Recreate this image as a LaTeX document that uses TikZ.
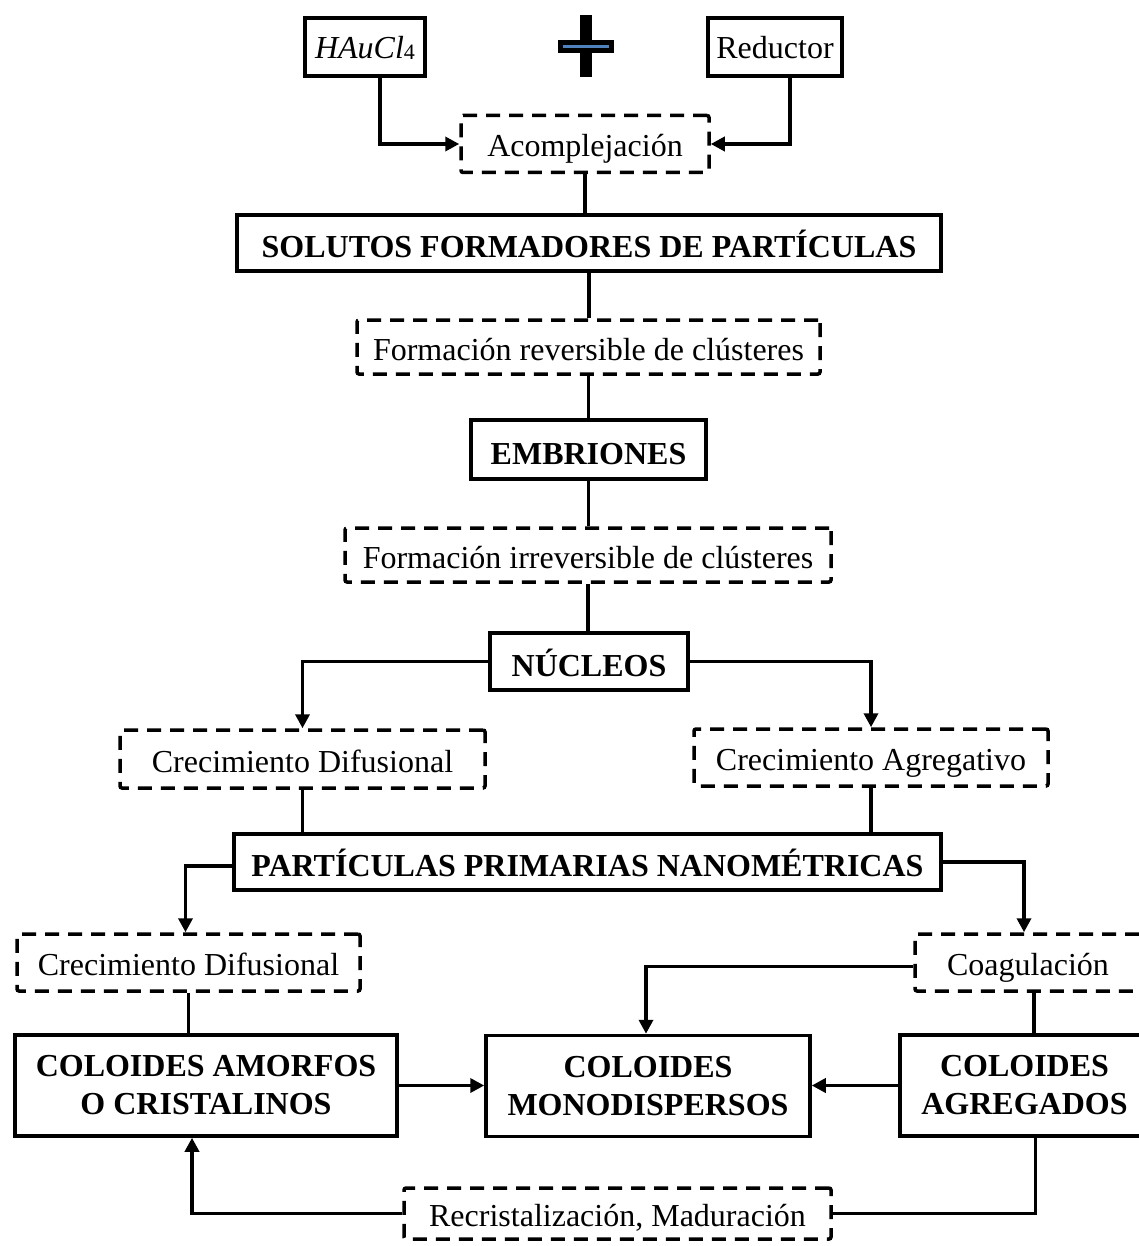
\documentclass[tikz,border=0pt]{standalone}
\usepackage{fontspec}
\setmainfont{Liberation Serif}
\usetikzlibrary{arrows.meta}
\definecolor{plusblue}{HTML}{4F81BD}
\begin{document}
\begin{tikzpicture}[x=1pt,y=-1pt,
  solidbox/.style={draw, line width=3.5pt, inner sep=0pt, align=center,
    font=\fontsize{32}{38}\selectfont\bfseries},
  dashbox/.style={draw, line width=3.5pt, inner sep=0pt, dash pattern=on 14pt off 9pt,
    rounded corners=2pt, text height=30pt, text depth=4pt,
    font=\fontsize{32}{38}\selectfont},
  plainbox/.style={draw, line width=3.5pt, inner sep=0pt,
    text height=28pt, text depth=5pt, font=\fontsize{32}{38}\selectfont},
  oneline/.style={text height=32pt, text depth=3pt},
  conn/.style={line width=3.5pt},
  arr/.style={conn, -{Triangle[length=14pt,width=14pt]}}]
\useasboundingbox (0,0) rectangle (1138,1246);

% top inputs
\node[plainbox, minimum width=120pt, minimum height=58pt] (hau) at (365,47)
  {\textit{HAuCl}\raisebox{-1pt}{\fontsize{22}{22}\selectfont 4}};
\node[plainbox, minimum width=134pt, minimum height=58pt] (red) at (775,47) {Reductor};

% plus sign
\fill (580,15) rectangle (592,77);
\fill (558,40) rectangle (614,53);
\draw[plusblue, line width=3pt] (563,46.5) -- (609,46.5);

\node[dashbox, minimum width=248pt, minimum height=57pt] (acom) at (585,144) {Acomplejación};
\node[solidbox, oneline, minimum width=704pt, minimum height=56pt] (sol) at (589,243)
  {SOLUTOS FORMADORES DE PARTÍCULAS};
\node[dashbox, minimum width=463pt, minimum height=54pt] (rev) at (588.5,347)
  {Formación reversible de clústeres};
\node[solidbox, oneline, minimum width=235pt, minimum height=59pt] (emb) at (588.5,449.5) {EMBRIONES};
\node[dashbox, minimum width=486pt, minimum height=54pt] (irr) at (588,555)
  {Formación irreversible de clústeres};
\node[solidbox, oneline, minimum width=198pt, minimum height=57pt] (nuc) at (589,661.5) {NÚCLEOS};
\node[dashbox, minimum width=365pt, minimum height=58pt] (cd) at (302.5,759) {Crecimiento Difusional};
\node[dashbox, minimum width=354pt, minimum height=57pt] (ca) at (871,757.5) {Crecimiento Agregativo};
\node[solidbox, oneline, minimum width=707pt, minimum height=56pt] (part) at (587.5,862)
  {PARTÍCULAS PRIMARIAS NANOMÉTRICAS};
\node[dashbox, minimum width=343pt, minimum height=57pt] (cd2) at (188.5,962.5) {Crecimiento Difusional};
\node[dashbox, minimum width=226pt, minimum height=57pt] (coag) at (1028,962.5) {Coagulación};
\node[solidbox, minimum width=382pt, minimum height=101pt] (amo) at (206,1085.5)
  {COLOIDES AMORFOS\\O CRISTALINOS};
\node[solidbox, minimum width=324pt, minimum height=101pt] (mono) at (648,1086)
  {COLOIDES\\MONODISPERSOS};
\node[solidbox, minimum width=249pt, minimum height=101pt] (agr) at (1024.5,1085.5)
  {COLOIDES\\AGREGADOS};
\node[dashbox, minimum width=427pt, minimum height=51pt] (rec) at (617.5,1213.5)
  {Recristalización, Maduración};

% connectors
\draw[arr] ([xshift=15pt]hau.south) |- (acom.west);
\draw[arr] ([xshift=15pt]red.south) |- (acom.east);
\draw[conn] (acom.south) -- (acom.south |- sol.north);
\draw[conn] (sol.south) -- (sol.south |- rev.north);
\draw[conn] (rev.south) -- (rev.south |- emb.north);
\draw[conn] (emb.south) -- (emb.south |- irr.north);
\draw[conn] (irr.south) -- (irr.south |- nuc.north);
\draw[arr] (nuc.west) -| (cd.north);
\draw[arr] (nuc.east) -| (ca.north);
\draw[conn] (cd.south) -- (cd.south |- part.north);
\draw[conn] (ca.south) -- (ca.south |- part.north);
\draw[arr] ([yshift=-4pt]part.west) -| ([xshift=-3pt]cd2.north);
\draw[arr] (part.east) -| ([xshift=-4pt]coag.north);
\draw[conn] (cd2.south) -- (cd2.south |- amo.north);
\draw[arr] ([yshift=-4pt]coag.west) -| ([xshift=-2pt]mono.north);
\draw[conn] ([xshift=6pt]coag.south) -- ([xshift=6pt]coag.south |- agr.north);
\draw[arr] (amo.east) -- (amo.east -| mono.west);
\draw[arr] (agr.west) -- (agr.west -| mono.east);
\draw[arr] (rec.west) -| ([xshift=-14pt]amo.south);
\draw[conn] (rec.east) -| ([xshift=11pt]agr.south);
\end{tikzpicture}
\end{document}
